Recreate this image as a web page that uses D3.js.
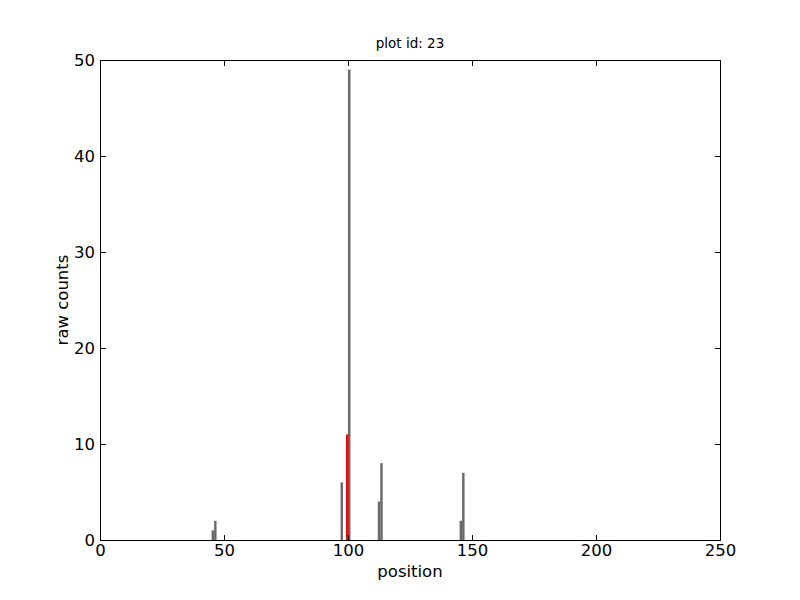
<!DOCTYPE html>
<html><head><meta charset="utf-8">
<script src="https://cdn.jsdelivr.net/npm/d3@7"></script>
<style>body{margin:0;background:#fff}text{font-family:"DejaVu Sans",sans-serif;fill:#000}</style>
</head><body>
<svg id="c" width="800" height="600"></svg>
<script>
const positions = [45, 46, 97, 100, 112, 113, 145, 146];
const counts    = [1, 2, 6, 49, 4, 8, 2, 7];
const highlightPositions = [99];
const highlightCounts    = [11];
const xTicks = [0, 50, 100, 150, 200, 250];
const yTicks = [0, 10, 20, 30, 40, 50];
const titleText = "plot id: 23";

const svg = d3.select("#c");
const L = 100, R = 720, T = 60, B = 540;
const x = d3.scaleLinear().domain([0, 250]).range([L, R]);
const y = d3.scaleLinear().domain([0, 50]).range([B, T]);

const bars = positions.map((p, i) => ({p, v: counts[i]}));
const hbars = highlightPositions.map((p, i) => ({p, v: highlightCounts[i]}));

svg.append("g").selectAll("rect").data(bars).join("rect")
  .attr("x", d => x(d.p)).attr("width", d => x(d.p + 1) - x(d.p))
  .attr("y", d => y(d.v)).attr("height", d => y(0) - y(d.v))
  .attr("fill", "#6b6b6b");
svg.append("g").selectAll("rect").data(hbars).join("rect")
  .attr("x", d => x(d.p) + 0.5).attr("width", d => x(d.p + 1) - x(d.p))
  .attr("y", d => y(d.v)).attr("height", d => y(0) - y(d.v))
  .attr("fill", "#ff0000");

// frame
svg.append("rect").attr("x", L).attr("y", T).attr("width", R - L).attr("height", B - T)
  .attr("fill", "none").attr("stroke", "#000").attr("stroke-width", 1).attr("shape-rendering", "crispEdges");

const tl = 5.5;
const fs = "16.5px";
// bottom axis
const xb = svg.append("g").attr("transform", `translate(0,${B})`)
  .call(d3.axisBottom(x).tickValues(xTicks).tickSizeInner(-tl).tickSizeOuter(0).tickPadding(8).tickFormat(d3.format("d")));
// top ticks
const xt = svg.append("g").attr("transform", `translate(0,${T})`)
  .call(d3.axisTop(x).tickValues(xTicks).tickSizeInner(-tl).tickSizeOuter(0).tickFormat(""));
const yl = svg.append("g").attr("transform", `translate(${L},0)`)
  .call(d3.axisLeft(y).tickValues(yTicks).tickSizeInner(-tl).tickSizeOuter(0).tickPadding(8).tickFormat(d3.format("d")));
const yr = svg.append("g").attr("transform", `translate(${R},0)`)
  .call(d3.axisRight(y).tickValues(yTicks).tickSizeInner(-tl).tickSizeOuter(0).tickFormat(""));
[xb, xt, yl, yr].forEach(g => {
  g.select(".domain").remove();
  g.selectAll("line").attr("stroke", "#000").attr("shape-rendering", "crispEdges");
  g.selectAll("text").attr("font-size", fs).attr("font-family", "DejaVu Sans").attr("fill", "#000");
});
xb.selectAll("text").attr("dy", "0.78em").attr("y", 3);
yl.selectAll("text").attr("x", -5);

svg.append("text").attr("x", (L + R) / 2).attr("y", 48).attr("text-anchor", "middle")
  .attr("font-size", "13.5px").text(titleText);
svg.append("text").attr("x", (L + R) / 2).attr("y", 577).attr("text-anchor", "middle")
  .attr("font-size", fs).text("position");
svg.append("text").attr("transform", `translate(68,${(T + B) / 2}) rotate(-90)`).attr("text-anchor", "middle")
  .attr("font-size", fs).text("raw counts");
</script>
</body></html>
